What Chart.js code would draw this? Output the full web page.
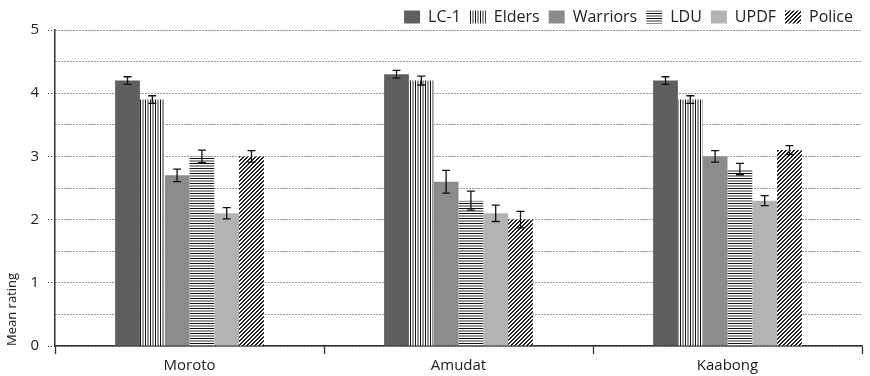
<!DOCTYPE html>
<html>
<head>
<meta charset="utf-8">
<script src="https://cdn.jsdelivr.net/npm/chart.js@4/dist/chart.umd.min.js"></script>
<style>
  html, body { margin: 0; padding: 0; background: #fff; }
  #wrap { width: 870px; height: 376px; }
</style>
</head>
<body>
<div id="wrap"><canvas id="c" width="870" height="376"></canvas></div>
<script>
// Districts on the x axis
const districts = ['Moroto', 'Amudat', 'Kaabong'];

// Mean ratings per actor, one value per district
const lc1      = [4.2, 4.3, 4.2];
const elders   = [3.9, 4.2, 3.9];
const warriors = [2.7, 2.6, 3.0];
const ldu      = [3.0, 2.3, 2.8];
const updf     = [2.1, 2.1, 2.3];
const police   = [3.0, 2.0, 3.1];

// Half-width of the error bars
const lc1Err      = [0.06, 0.06, 0.06];
const eldersErr   = [0.06, 0.07, 0.06];
const warriorsErr = [0.10, 0.18, 0.09];
const lduErr      = [0.10, 0.15, 0.09];
const updfErr     = [0.09, 0.13, 0.08];
const policeErr   = [0.09, 0.13, 0.07];

const yTicks = [0, 1, 2, 3, 4, 5];

// --- fill patterns ---
function makePattern(w, h, draw) {
  const cv = document.createElement('canvas');
  cv.width = w; cv.height = h;
  const g = cv.getContext('2d');
  draw(g, w, h);
  return document.getElementById('c').getContext('2d').createPattern(cv, 'repeat');
}

// vertical stripes: black / white / grey
const eldersFill = makePattern(5, 4, (g, w, h) => {
  const cols = ['#111', '#fff', '#999', '#999', '#fff'];
  cols.forEach((c, i) => { g.fillStyle = c; g.fillRect(i, 0, 1, h); });
});

// horizontal stripes: grey / white / black
const lduFill = makePattern(4, 5, (g, w, h) => {
  const rows = ['#999', '#999', '#fff', '#111', '#fff'];
  rows.forEach((c, i) => { g.fillStyle = c; g.fillRect(0, i, w, 1); });
});

// diagonal hatch
const policeFill = makePattern(4, 4, (g, w, h) => {
  g.fillStyle = '#fff'; g.fillRect(0, 0, w, h);
  g.fillStyle = '#222';
  for (let y = 0; y < h; y++) {
    const x0 = (h - 1 - y) % w;
    g.fillRect(x0, y, 1, 1);
    g.fillRect((x0 + 1) % w, y, 1, 1);
  }
});

const errorBars = {
  id: 'errorBars',
  afterDatasetsDraw(chart) {
    const ctx = chart.ctx;
    const y = chart.scales.y;
    chart.data.datasets.forEach((ds, i) => {
      const meta = chart.getDatasetMeta(i);
      meta.data.forEach((bar, j) => {
        const v = ds.data[j], e = ds.errors[j];
        const top = y.getPixelForValue(v + e);
        const bot = y.getPixelForValue(v - e);
        ctx.save();
        ctx.strokeStyle = '#111';
        ctx.lineWidth = 1.3;
        ctx.beginPath();
        ctx.moveTo(bar.x, top); ctx.lineTo(bar.x, bot);
        ctx.moveTo(bar.x - 4, top); ctx.lineTo(bar.x + 4, top);
        ctx.moveTo(bar.x - 4, bot); ctx.lineTo(bar.x + 4, bot);
        ctx.stroke();
        ctx.restore();
      });
    });
  }
};

// keep the legend strip at a fixed height above the plot
const legendHeight = {
  id: 'legendHeight',
  beforeLayout(chart) {
    const lg = chart.legend;
    if (lg && !lg._fixedHeight) {
      const fit = lg.fit.bind(lg);
      lg.fit = function () { fit(); this.height = 30; };
      lg._fixedHeight = true;
    }
  }
};

Chart.defaults.font.family = "'Open Sans', 'DejaVu Sans', sans-serif";
Chart.defaults.font.size = 15;
Chart.defaults.color = '#222';

const mk = (label, data, errors, fill) => ({
  label, data, errors,
  backgroundColor: fill,
  borderWidth: 0,
  barPercentage: 1,
  categoryPercentage: 0.553
});

new Chart(document.getElementById('c'), {
  type: 'bar',
  data: {
    labels: districts,
    datasets: [
      mk('LC-1', lc1, lc1Err, '#5f5f61'),
      mk('Elders', elders, eldersErr, eldersFill),
      mk('Warriors', warriors, warriorsErr, '#8a8b8c'),
      mk('LDU', ldu, lduErr, lduFill),
      mk('UPDF', updf, updfErr, '#b1b3b5'),
      mk('Police', police, policeErr, policeFill)
    ]
  },
  options: {
    responsive: false,
    animation: false,
    devicePixelRatio: 1,
    layout: { padding: { top: 0, right: 8, left: 0, bottom: 0 } },
    plugins: {
      legend: {
        position: 'top',
        align: 'end',
        labels: {
          boxWidth: 16,
          boxHeight: 13,
          padding: 9,
          color: '#222',
          font: { size: 16 }
        }
      },
      tooltip: { enabled: false }
    },
    scales: {
      x: {
        afterFit(s) { s.height = 30; },
        grid: {
          offset: true,
          drawOnChartArea: false,
          drawTicks: true,
          tickLength: 8,
          tickColor: '#333',
          tickWidth: 1.3
        },
        border: { color: '#333', width: 1.5 },
        ticks: { color: '#222', padding: 3, font: { size: 15 } }
      },
      y: {
        min: 0,
        max: 5,
        afterFit(s) { s.width = 55; },
        afterBuildTicks(s) {
          s.ticks = [];
          for (let v = 0; v <= 10; v++) s.ticks.push({ value: v / 2 });
        },
        ticks: {
          padding: 9,
          color: '#222',
          font: { size: 15 },
          callback: (v) => yTicks.includes(v) ? String(v) : ''
        },
        grid: {
          color: '#333',
          lineWidth: 1,
          borderDash: [1, 2],
          tickLength: 7,
          tickBorderDash: [1, 2],
          tickColor: (c) => (c.tick && yTicks.includes(c.tick.value)) ? '#333' : 'rgba(0,0,0,0)'
        },
        border: { color: '#333', width: 1.5, dash: [1, 2] },
        title: {
          display: true,
          text: 'Mean rating',
          align: 'start',
          color: '#222',
          font: { size: 13 },
          padding: { top: 4, bottom: 0 }
        }
      }
    }
  },
  plugins: [errorBars, legendHeight]
});
</script>
</body>
</html>
